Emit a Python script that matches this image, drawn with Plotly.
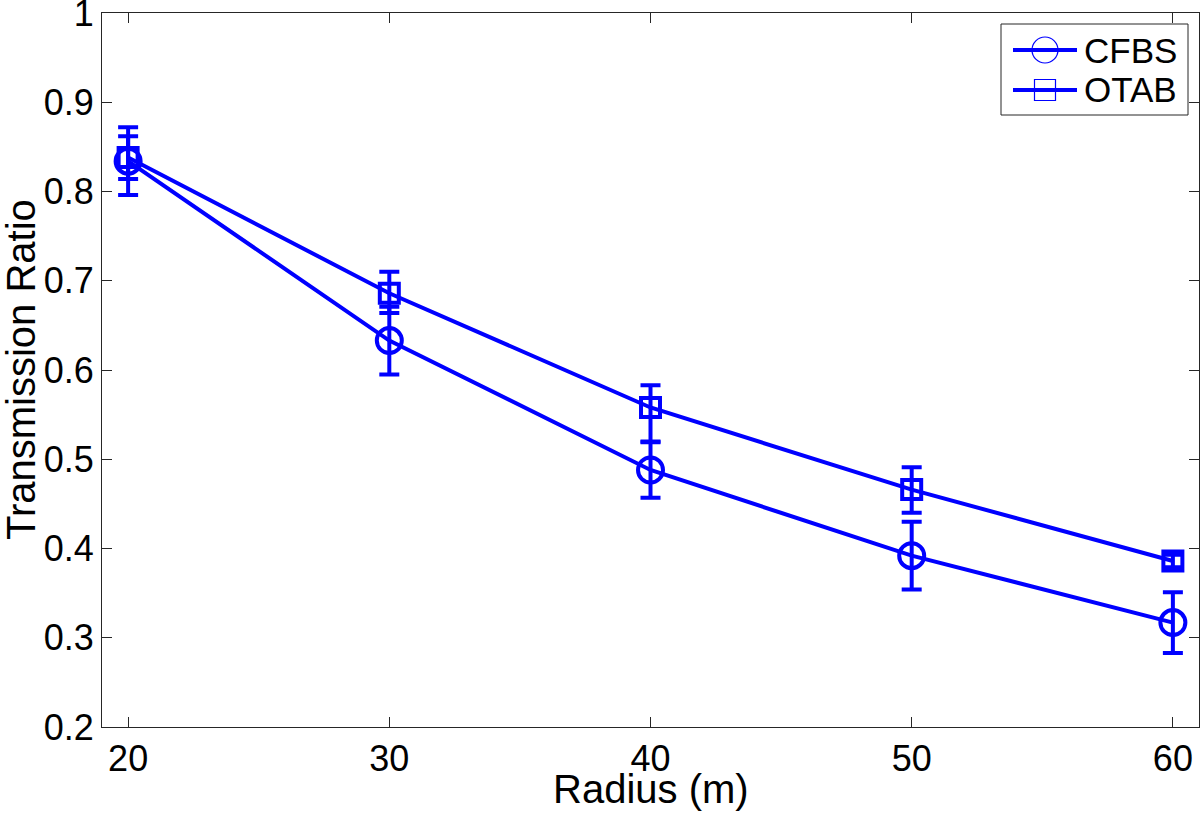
import plotly.graph_objects as go

radius = [20, 30, 40, 50, 60]
cfbs = [0.834, 0.633, 0.488, 0.392, 0.317]
cfbs_err = [0.038, 0.038, 0.031, 0.038, 0.034]
otab = [0.838, 0.686, 0.558, 0.466, 0.386]
otab_err_plus = [0.024, 0.024, 0.025, 0.025, 0.007]
otab_err_minus = [0.024, 0.022, 0.038, 0.026, 0.007]

xticks = [20, 30, 40, 50, 60]
yticks = [0.2, 0.3, 0.4, 0.5, 0.6, 0.7, 0.8, 0.9, 1.0]
ytick_text = ["0.2", "0.3", "0.4", "0.5", "0.6", "0.7", "0.8", "0.9", "1"]
series_names = ["CFBS", "OTAB"]
x_title = "Radius (m)"
y_title = "Transmission Ratio"

BLUE = "#0000FF"
AXC = "#262626"
FONT = "Liberation Sans, Arial, sans-serif"
W, H = 1200, 814
ML, MR, MT, MB = 102, 1, 13, 87
PW, PH = W - ML - MR, H - MT - MB
PLOT_L, PLOT_B = ML, MT + PH  # plot-area edges in window pixels


def px(xp):
    return (xp - PLOT_L) / PW


def py(yp):
    return (PLOT_B - yp) / PH


fig = go.Figure()

fig.add_trace(go.Scatter(
    x=radius, y=cfbs, mode="lines+markers", name=series_names[0], showlegend=False,
    line=dict(color=BLUE, width=4),
    marker=dict(symbol="circle-open", size=25, color=BLUE, line=dict(width=4, color=BLUE)),
    error_y=dict(type="data", array=cfbs_err, visible=True, color=BLUE, thickness=4, width=10),
))
fig.add_trace(go.Scatter(
    x=radius, y=otab, mode="lines+markers", name=series_names[1], showlegend=False,
    line=dict(color=BLUE, width=4),
    marker=dict(symbol="square-open", size=19, color=BLUE, line=dict(width=4, color=BLUE)),
    error_y=dict(type="data", array=otab_err_plus, arrayminus=otab_err_minus, symmetric=False,
                 visible=True, color=BLUE, thickness=4, width=10),
))

# custom legend (MATLAB style: thin marker outlines, thick line)
shapes = [dict(type="rect", xref="paper", yref="paper",
               x0=px(1001), x1=px(1188), y0=py(115), y1=py(24),
               line=dict(color=AXC, width=1), fillcolor="white", layer="above")]
annotations = []
rows = [50, 90]
for i, name in enumerate(series_names):
    yr = rows[i]
    shapes.append(dict(type="line", xref="paper", yref="paper",
                       x0=px(1013), x1=px(1077), y0=py(yr), y1=py(yr),
                       line=dict(color=BLUE, width=4), layer="above"))
    if i == 0:
        shapes.append(dict(type="circle", xref="paper", yref="paper",
                           x0=px(1045 - 13), x1=px(1045 + 13), y0=py(yr + 13), y1=py(yr - 13),
                           line=dict(color=BLUE, width=1.2), layer="above"))
    else:
        shapes.append(dict(type="rect", xref="paper", yref="paper",
                           x0=px(1045 - 10.5), x1=px(1045 + 10.5), y0=py(yr + 10.5), y1=py(yr - 10.5),
                           line=dict(color=BLUE, width=1.2), layer="above"))
    annotations.append(dict(text=name, xref="paper", yref="paper", x=px(1082), y=py(yr),
                            xanchor="left", yanchor="middle", showarrow=False,
                            font=dict(family=FONT, size=35, color="black")))

# axis titles as annotations (MATLAB places them close to the tick labels)
annotations.append(dict(text=x_title, xref="paper", yref="paper", x=0.5, y=py(789),
                        xanchor="center", yanchor="middle", showarrow=False,
                        font=dict(family=FONT, size=40, color="black")))
annotations.append(dict(text=y_title, xref="paper", yref="paper", x=px(21), y=0.5,
                        xanchor="center", yanchor="middle", showarrow=False, textangle=-90,
                        font=dict(family=FONT, size=40, color="black")))

axis_common = dict(
    showline=True, linecolor=AXC, linewidth=1, mirror="ticks",
    ticks="inside", ticklen=10, tickwidth=1, tickcolor=AXC,
    showgrid=False, zeroline=False, automargin=False,
    ticklabeloverflow="allow",
    tickfont=dict(family=FONT, size=36, color="black"),
)

fig.update_layout(
    width=W, height=H,
    margin=dict(l=ML, r=MR, t=MT, b=MB),
    paper_bgcolor="white", plot_bgcolor="white",
    font=dict(family=FONT, color="black"),
    showlegend=False,
    xaxis=dict(range=[19.0, 61.0], tickvals=xticks, **axis_common),
    yaxis=dict(range=[0.2, 1.0], tickvals=yticks, ticktext=ytick_text, **axis_common),
    shapes=shapes,
    annotations=annotations,
)

# remove the browser's default 8px body margin so the figure fills the window exactly
fig.write_html("out.html", config={"displayModeBar": False},
               post_script="document.body.style.margin='0';")
